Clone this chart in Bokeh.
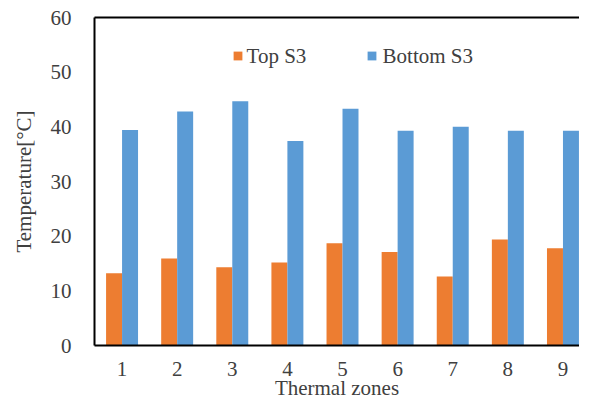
from bokeh.plotting import figure
from bokeh.models import Range1d, FixedTicker, LinearAxis, Legend, LegendItem, ColumnDataSource, Label
from bokeh.transform import dodge
from bokeh.embed import file_html
from bokeh.resources import INLINE

zones = [1, 2, 3, 4, 5, 6, 7, 8, 9]
top_s3 = [13.2, 15.9, 14.3, 15.2, 18.7, 17.1, 12.6, 19.4, 17.8]
bottom_s3 = [39.4, 42.8, 44.7, 37.4, 43.3, 39.3, 40.0, 39.3, 39.3]
y_ticks = [0, 10, 20, 30, 40, 50, 60]
series_names = ["Top S3", "Bottom S3"]
series_colors = ["#ED7D31", "#5B9BD5"]

FONT = "serif"
TXT = "#404040"

src = ColumnDataSource(dict(zone=zones, top=top_s3, bottom=bottom_s3))

p = figure(width=579, height=402, output_backend="svg", toolbar_location=None,
           x_range=Range1d(0.5, 9.3), y_range=Range1d(0, 60),
           min_border_left=94, min_border_right=0, min_border_top=17, min_border_bottom=55)
p.outline_line_color = None
p.xgrid.visible = False
p.ygrid.visible = False

bw = 0.29
r1 = p.vbar(x=dodge("zone", -bw / 2), top="top", width=bw, source=src,
            fill_color=series_colors[0], line_color=None)
r2 = p.vbar(x=dodge("zone", bw / 2), top="bottom", width=bw, source=src,
            fill_color=series_colors[1], line_color=None)

for ax in (p.xaxis[0], p.yaxis[0]):
    ax.axis_line_color = "black"
    ax.axis_line_width = 2
    ax.major_tick_line_color = None
    ax.minor_tick_line_color = None
    ax.major_label_text_font = FONT
    ax.major_label_text_font_size = "21px"
    ax.major_label_text_color = TXT
    ax.axis_label_text_font = FONT
    ax.axis_label_text_font_size = "21px"
    ax.axis_label_text_font_style = "normal"
    ax.axis_label_text_color = TXT

p.xaxis.ticker = FixedTicker(ticks=zones)
p.xaxis.axis_label = "Thermal zones"
p.xaxis.major_label_standoff = 10
p.xaxis.axis_label_standoff = -3
p.yaxis.ticker = FixedTicker(ticks=y_ticks)
p.yaxis.axis_label = "Temperature[°C]"
p.yaxis.major_label_standoff = 17
p.yaxis.axis_label_standoff = 12

top_axis = LinearAxis(ticker=FixedTicker(ticks=[]), axis_line_color="black", axis_line_width=2,
                      major_tick_line_color=None, minor_tick_line_color=None,
                      major_label_text_font_size="0px")
p.add_layout(top_axis, "above")

# legend swatches (Bokeh legend) with serif labels drawn as text annotations
for r, loc in ((r1, (138, 284)), (r2, (272, 284))):
    lg = Legend(items=[LegendItem(label=" ", renderers=[r])], location=loc,
                glyph_width=11, glyph_height=11, label_height=11, label_width=1,
                label_standoff=0, padding=0, margin=0, border_line_color=None,
                background_fill_alpha=0, label_text_font_size="1px", label_text_alpha=0)
    p.add_layout(lg, "center")

for name, lx in zip(series_names, (3.259, 5.727)):
    p.add_layout(Label(x=lx, y=53.0, text=name, text_align="left", text_baseline="alphabetic",
                       text_font=FONT, text_font_size="21px", text_color=TXT))

open("out.html", "w").write(file_html(p, INLINE))
